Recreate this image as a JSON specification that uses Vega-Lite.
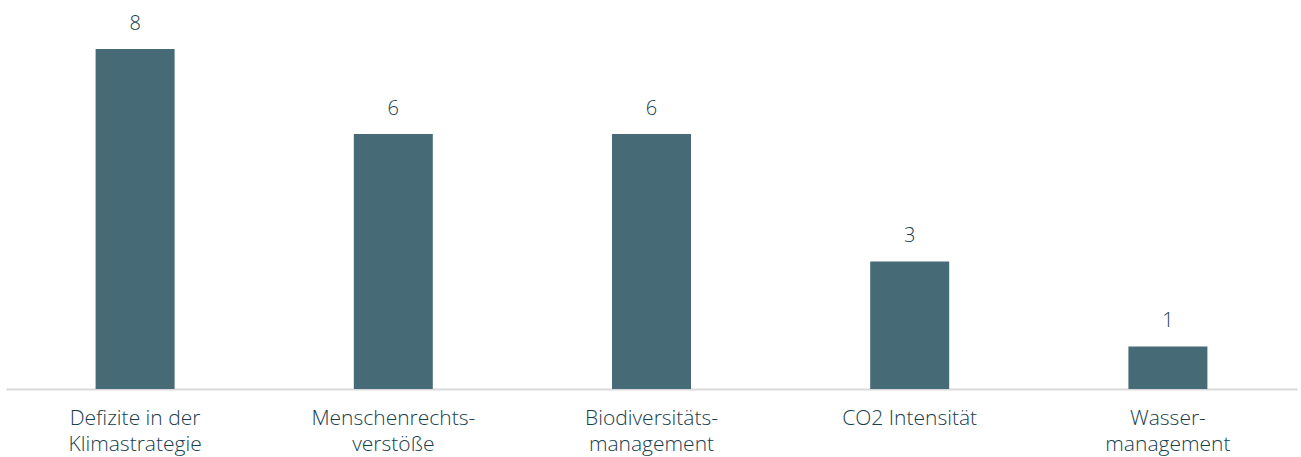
{
  "$schema": "https://vega.github.io/schema/vega-lite/v6.json",
  "width": 1291,
  "height": 389,
  "autosize": "none",
  "padding": {"left": 6, "top": 0, "right": 4, "bottom": 68},
  "background": "white",
  "config": {"view": {"stroke": null}, "font": "Open Sans"},
  "data": {
    "values": [
      {"cat": "Defizite in der|Klimastrategie", "value": 8},
      {"cat": "Menschenrechts-|verstöße", "value": 6},
      {"cat": "Biodiversitäts-|management", "value": 6},
      {"cat": "CO2 Intensität", "value": 3},
      {"cat": "Wasser-|management", "value": 1}
    ]
  },
  "encoding": {
    "x": {
      "field": "cat",
      "type": "nominal",
      "sort": null,
      "scale": {"paddingInner": 0, "paddingOuter": 0},
      "axis": {
        "title": null,
        "labelAngle": 0,
        "labelExpr": "split(datum.label, '|')",
        "labelFontSize": 21,
        "labelFontWeight": 300,
        "labelColor": "#17404c",
        "labelLineHeight": 26,
        "labelPadding": 18,
        "labelBaseline": "top",
        "ticks": false,
        "domainColor": "#d9d9d9",
        "domainWidth": 2
      }
    },
    "y": {
      "field": "value",
      "type": "quantitative",
      "scale": {"domain": [0, 9.15], "nice": false},
      "axis": null
    }
  },
  "layer": [
    {"mark": {"type": "bar", "width": 79, "color": "#466b76"}},
    {
      "mark": {"type": "text", "fontSize": 20, "fontWeight": 300, "color": "#17404c", "baseline": "alphabetic", "dy": -19},
      "encoding": {"text": {"field": "value", "type": "quantitative"}}
    }
  ]
}
